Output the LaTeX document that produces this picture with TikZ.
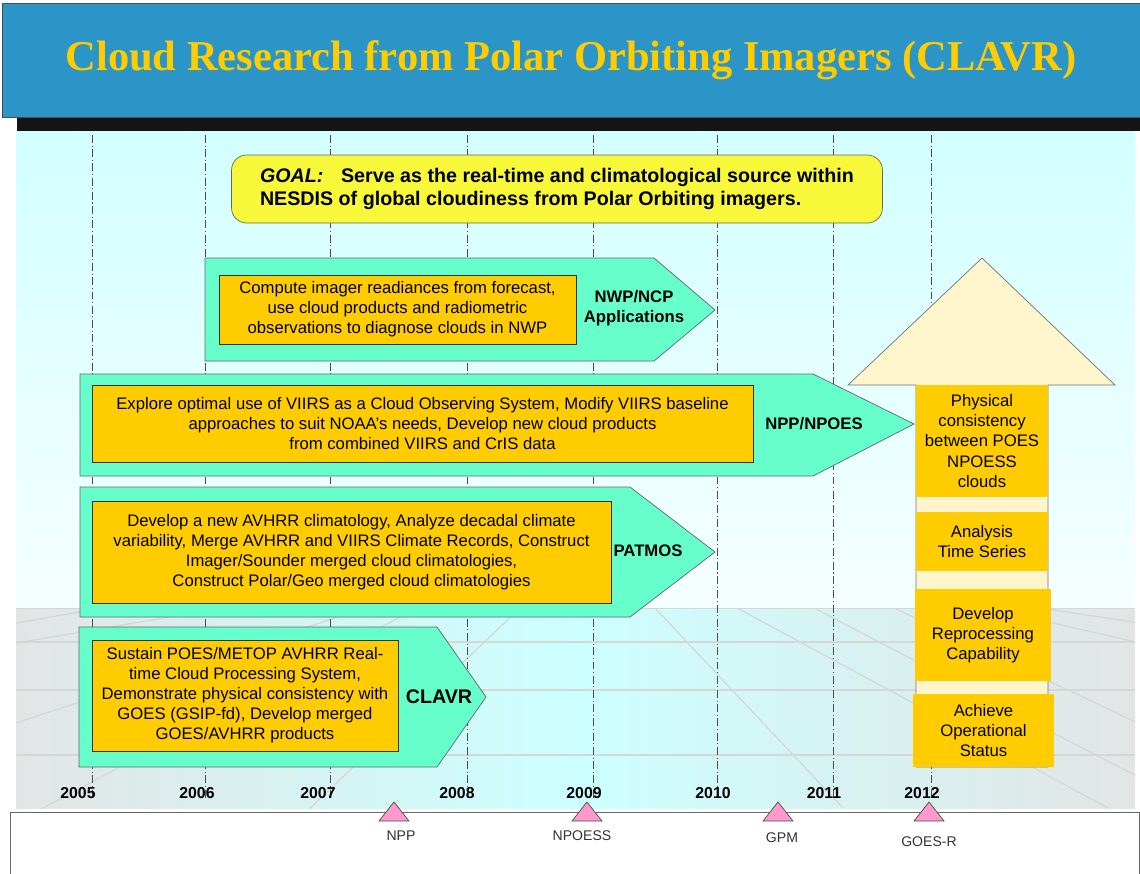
\documentclass[tikz,border=0pt]{standalone}
\usepackage{fontspec}
\setmainfont{Liberation Sans}
\newfontfamily\titlefont{Liberation Serif}
\usetikzlibrary{positioning}

\definecolor{bandblue}{HTML}{2A95C6}
\definecolor{bandgold}{HTML}{FFCC00}
\definecolor{skycyan}{HTML}{D2FFFF}
\definecolor{floorgray}{HTML}{E3E5E5}
\definecolor{floorcyan}{HTML}{CCFFFF}
\definecolor{arrowteal}{HTML}{66FFCC}
\definecolor{taskorange}{HTML}{FFCC00}
\definecolor{goalyellow}{HTML}{F8F83A}
\definecolor{headcream}{HTML}{FFF5CC}
\definecolor{milepink}{HTML}{FF99CC}

\begin{document}
\begin{tikzpicture}[x=0.02cm, y=-0.02cm,
  font=\fontsize{9.5}{11.4}\selectfont,
  task/.style={draw=black!80, fill=taskorange, align=center, inner sep=0pt},
  phase/.style={draw=black!60, fill=arrowteal},
  phaselabel/.style={font=\fontsize{9.5}{11.4}\selectfont\bfseries, align=center},
  stage/.style={fill=taskorange, align=center, inner sep=0pt, minimum width=2.64cm},
  yearline/.style={black!70, dash pattern=on 4.5pt off 1.5pt on 0.6pt off 1.5pt},
  yearlabel/.style={font=\fontsize{9}{10}\selectfont\bfseries},
  milestone/.style={draw=black!70, fill=milepink},
  milelabel/.style={font=\fontsize{8}{9}\selectfont, text=black!80},
  floorline/.style={black!16, line width=0.7pt}]
  \useasboundingbox (0,0) rectangle (1140,873);
  \fill[white] (0,0) rectangle (1140,873);

  % background: sky and perspective floor
  \shade[top color=skycyan, bottom color=skycyan!20] (16,131) rectangle (1135,608);
  \shade[left color=floorgray, right color=floorgray, middle color=floorcyan] (16,608) rectangle (1135,808);
  \begin{scope}
    \clip (16,608) rectangle (1135,808);
    \foreach \yy in {608,642,690,755}
      \draw[floorline] (16,\yy) -- (1135,\yy);
    \draw[floorline] (16,623) -- (103,608);
    \draw[floorline] (16,643) -- (223,608);
    \draw[floorline] (16,723) -- (365,608);
    \draw[floorline] (30,815) -- (417,608);
    \draw[floorline] (303,815) -- (520,608);
    \draw[floorline] (655,608) -- (843,808);
    \draw[floorline] (737,608) -- (1108,808);
    \draw[floorline] (814,608) -- (1140,778);
    \draw[floorline] (894,608) -- (1140,724);
    \draw[floorline] (1040,608) -- (1140,623);
    \draw[floorline] (1040,620) -- (1140,643);
  \end{scope}

  % title band
  \node[draw=black!70, fill=bandblue, minimum width=22.76cm, minimum height=2.28cm,
        text=bandgold, font=\titlefont\fontsize{24.2}{29}\selectfont\bfseries]
        (title) at (571,60) {Cloud Research from Polar Orbiting Imagers (CLAVR)};
  \fill[black!92] (17,118) rectangle (1140,131);

  % years
  \foreach \yr/\lx/\lnx in {2005/78/92, 2006/197/205, 2007/318/330, 2008/457/467,
                            2009/584/593, 2010/713/717, 2011/824/833, 2012/922/931} {
    \draw[yearline] (\lnx,135) -- (\lnx,800);
    \node[yearlabel] (y\yr) at (\lx,793) {\yr};
  }

  % goal
  \node[draw=black!60, fill=goalyellow, rounded corners=0.3cm, minimum width=13.02cm,
        minimum height=1.36cm, align=left, font=\fontsize{11.2}{13.1}\selectfont\bfseries]
        (goal) at (557,189)
        {\textit{GOAL:}\hspace{0.9em}Serve as the real-time and climatological source within\\
         NESDIS of global cloudiness from Polar Orbiting imagers.};

  % phase arrows
  \draw[phase] (205,258) -- (654,258) -- (715,310) -- (654,361) -- (205,361) -- cycle;
  \node[task, minimum width=7.14cm, minimum height=1.38cm] (nwp) at (397.5,309.5)
    {Compute imager readiances from forecast,\\use cloud products and radiometric\\
     observations to diagnose clouds in NWP};
  \node[phaselabel] (nwplab) at (634,308) {NWP/NCP\\Applications};

  \draw[phase] (80,374) -- (813,374) -- (914,424) -- (813,476) -- (80,476) -- cycle;
  \node[task, minimum width=13.22cm, minimum height=1.54cm] (npp) at (422.5,423.5)
    {Explore optimal use of VIIRS as a Cloud Observing System, Modify VIIRS baseline\\
     approaches to suit NOAA’s needs, Develop new cloud products\\
     from combined VIIRS and CrIS data};
  \node[phaselabel] (npplab) at (814,424) {NPP/NPOES};

  \draw[phase] (80,487) -- (630,487) -- (715,552) -- (630,617) -- (80,617) -- cycle;
  \node[task, minimum width=10.38cm, minimum height=2.04cm] (patmos) at (351.5,552)
    {Develop a new AVHRR climatology, Analyze decadal climate\\
     variability, Merge AVHRR and VIIRS Climate Records, Construct\\
     Imager/Sounder merged cloud climatologies,\\
     Construct Polar/Geo merged cloud climatologies};
  \node[phaselabel] (patmoslab) at (648,551) {PATMOS};

  \draw[phase] (79,627) -- (437,627) -- (486,697) -- (437,767) -- (79,767) -- cycle;
  \node[task, minimum width=6.12cm, minimum height=2.22cm] (clavr) at (245,695.5)
    {Sustain POES/METOP AVHRR Real-\\time Cloud Processing System,\\
     Demonstrate physical consistency with\\GOES (GSIP-fd), Develop merged\\
     GOES/AVHRR products};
  \node[phaselabel, font=\fontsize{11.2}{13}\selectfont\bfseries] (clavrlab) at (439,697) {CLAVR};

  % up arrow with stages
  \draw[black!55, fill=headcream] (916,767) -- (916,385) -- (848,385) -- (982,258)
    -- (1115,385) -- (1048,385) -- (1048,767) -- cycle;
  \node[stage, minimum height=2.24cm] (phys) at (982,441)
    {Physical\\consistency\\between POES\\NPOESS\\clouds};
  \node[stage, minimum height=1.18cm] (series) at (982,541.5) {Analysis\\Time Series};
  \node[stage, minimum width=2.72cm, minimum height=1.84cm] (reproc) at (983,635)
    {Develop\\Reprocessing\\Capability};
  \node[stage, minimum width=2.82cm, minimum height=1.46cm] (oper) at (983.5,730.5)
    {Achieve\\Operational\\Status};

  % launch strip
  \draw[black!60, fill=white] (10,812) rectangle (1139,890);
  \foreach \name/\mx/\lab/\lx/\ly in {nppsat/394/NPP/401/836, npoess/587/NPOESS/582/836,
                                      gpm/778/GPM/782/838, goesr/929/GOES-R/929/842} {
    \coordinate (\name) at (\mx,812);
    \draw[milestone] (\name) ++(-15,9) -- ++(15,-19) -- ++(15,19) -- cycle;
    \node[milelabel] (\name-lab) at (\lx,\ly) {\lab};
  }
\end{tikzpicture}
\end{document}
